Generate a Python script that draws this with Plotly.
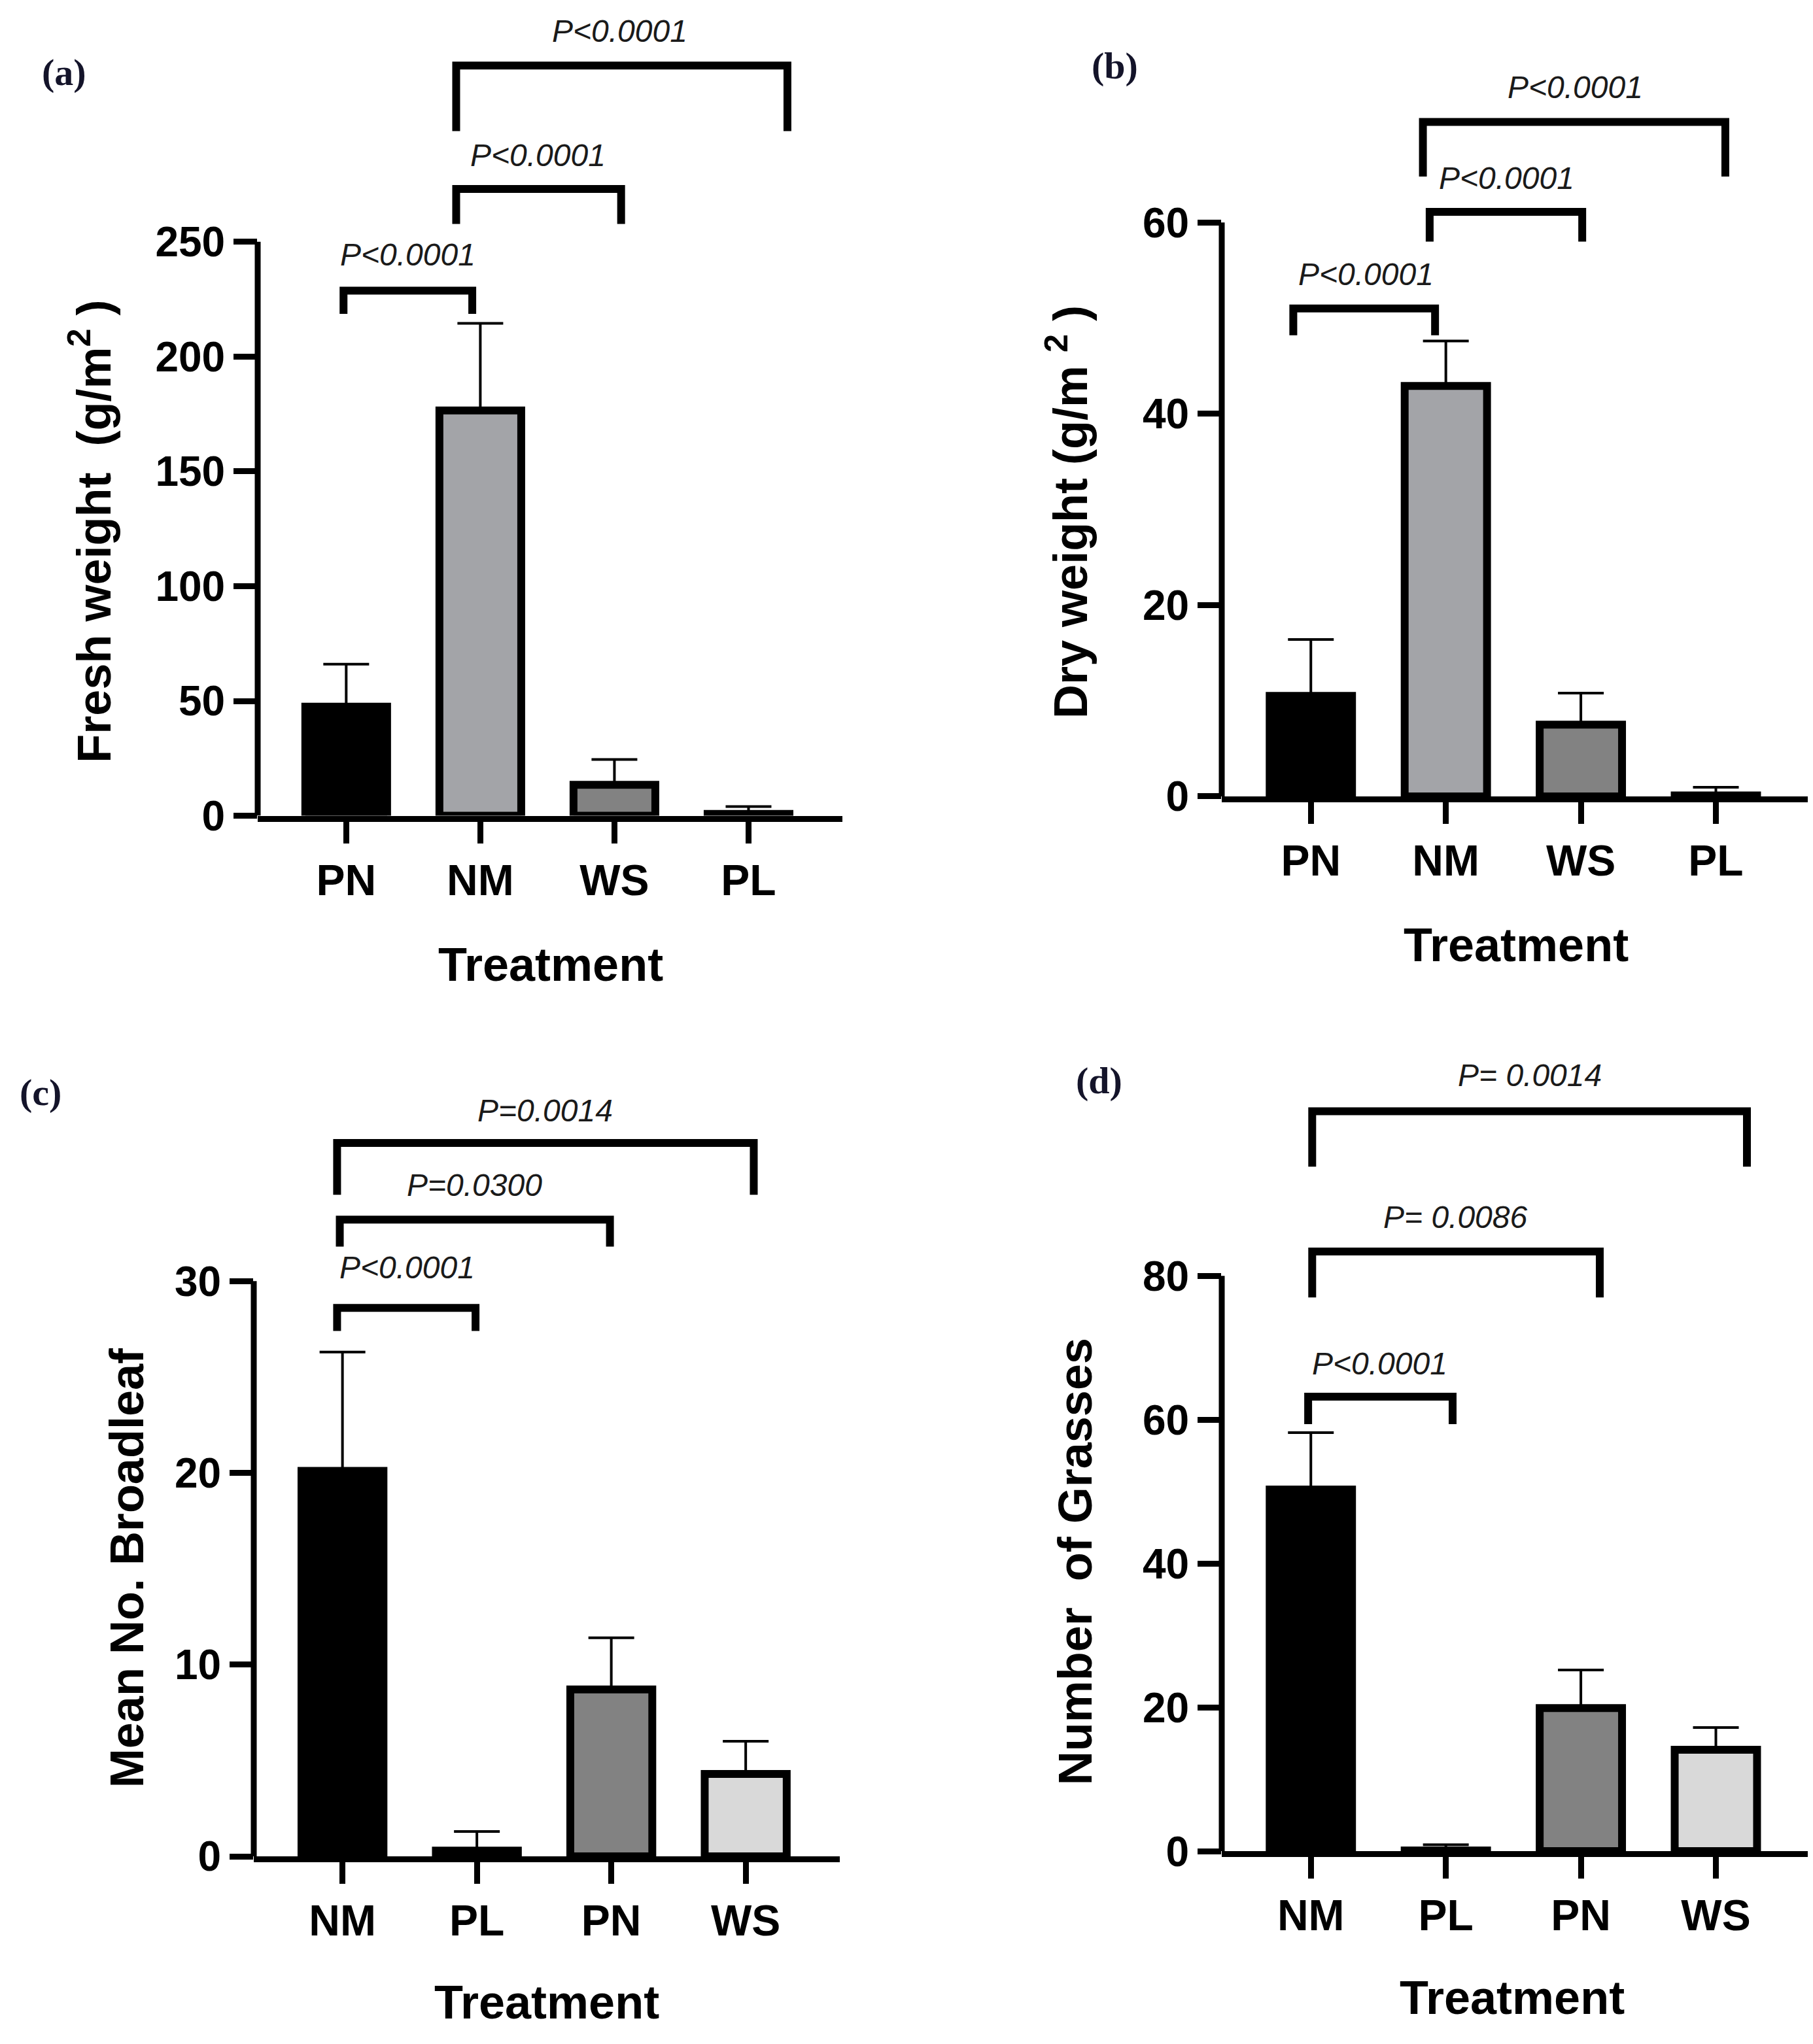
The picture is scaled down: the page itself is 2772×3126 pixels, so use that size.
import plotly.graph_objects as go

W, H = 2772, 3126
SANS = "Liberation Sans, Arial, sans-serif"
SERIF = "Liberation Serif, Times New Roman, serif"

# ---------------- data ----------------
cats_ab = ["PN", "NM", "WS", "PL"]
cats_cd = ["NM", "PL", "PN", "WS"]
bar_colors = ["#000000", "#a3a4a8", "#828282", "#d9d9d9"]

fresh_mean = [47.5, 176.5, 13.5, 0.8]
fresh_err = [18.5, 38.0, 11.0, 3.2]

dry_mean = [10.5, 42.9, 7.5, 0.1]
dry_err = [5.9, 4.7, 3.3, 0.85]

broadleaf_mean = [20.1, 0.3, 8.7, 4.3]
broadleaf_err = [6.2, 1.0, 2.7, 1.7]

grass_mean = [50.3, 0.1, 19.9, 14.1]
grass_err = [7.9, 0.8, 5.3, 3.1]

# significance brackets: (left, right, top, leg end) in category/value units
fresh_brackets = [(-0.02, 0.94, 228.7, 218.6), (0.82, 2.05, 273.0, 257.8), (0.82, 3.29, 326.8, 298.2)]
fresh_pvals = ["P<0.0001", "P<0.0001", "P<0.0001"]
fresh_pval_xy = [(0.46, 244.4), (1.43, 287.6), (2.04, 341.9)]

dry_brackets = [(-0.13, 0.92, 51.0, 48.2), (0.88, 2.01, 61.1, 58.0), (0.83, 3.07, 70.5, 64.8)]
dry_pvals = ["P<0.0001", "P<0.0001", "P<0.0001"]
dry_pval_xy = [(0.41, 54.6), (1.45, 64.6), (1.96, 74.1)]

broadleaf_brackets = [(-0.04, 0.99, 28.6, 27.4), (-0.02, 1.99, 33.2, 31.8), (-0.04, 3.06, 37.2, 34.5)]
broadleaf_pvals = ["P<0.0001", "P=0.0300", "P=0.0014"]
broadleaf_pval_xy = [(0.48, 30.7), (0.98, 35.0), (1.51, 38.9)]

grass_brackets = [(-0.02, 1.05, 63.2, 59.4), (0.01, 2.14, 83.4, 77.0), (0.01, 3.23, 102.9, 95.2)]
grass_pvals = ["P<0.0001", "P= 0.0086", "P= 0.0014"]
grass_pval_xy = [(0.51, 67.8), (1.07, 88.2), (1.62, 107.9)]

# ---------------- panel placement (pixels) ----------------
panels = [
    dict(label="(a)", label_xy=(90, 104), cats=cats_ab, mean=fresh_mean, err=fresh_err,
         brackets=fresh_brackets, pvals=fresh_pvals, pval_xy=fresh_pval_xy,
         left=386, right=1280, zero=1254, ppu=3.552, ymax=350, ytick_top=250, dtick=50,
         ytitle="Fresh weight\u00a0\u00a0(g/m<sup>2</sup> )", ytitle_xy=(130, 814),
         xtitle_xy=(834, 1484)),
    dict(label="(b)", label_xy=(1696, 94), cats=cats_ab, mean=dry_mean, err=dry_err,
         brackets=dry_brackets, pvals=dry_pvals, pval_xy=dry_pval_xy,
         left=1860, right=2760, zero=1224, ppu=14.8, ymax=77, ytick_top=60, dtick=20,
         ytitle="Dry weight (g/m <sup>2</sup> )", ytitle_xy=(1624, 784),
         xtitle_xy=(2310, 1454)),
    dict(label="(c)", label_xy=(54, 1682), cats=cats_cd, mean=broadleaf_mean, err=broadleaf_err,
         brackets=broadleaf_brackets, pvals=broadleaf_pvals, pval_xy=broadleaf_pval_xy,
         left=380, right=1276, zero=2864, ppu=29.67, ymax=40.5, ytick_top=30, dtick=10,
         ytitle="Mean No. Broadleaf", ytitle_xy=(186, 2418),
         xtitle_xy=(828, 3090)),
    dict(label="(d)", label_xy=(1672, 1664), cats=cats_cd, mean=grass_mean, err=grass_err,
         brackets=grass_brackets, pvals=grass_pvals, pval_xy=grass_pval_xy,
         left=1860, right=2760, zero=2856, ppu=11.125, ymax=110, ytick_top=80, dtick=20,
         ytitle="Number\u00a0\u00a0of Grasses", ytitle_xy=(1636, 2408),
         xtitle_xy=(2304, 3082)),
]

fig = go.Figure()
annotations = []
shapes = []

for i, p in enumerate(panels, start=1):
    xa = "x" if i == 1 else "x%d" % i
    ya = "y" if i == 1 else "y%d" % i
    xpos = list(range(len(p["cats"])))

    # bars with upper error bars (lower end sits hidden in the bar outline)
    fig.add_trace(go.Bar(
        x=xpos, y=p["mean"], xaxis=xa, yaxis=ya, width=0.61,
        marker=dict(color=bar_colors, line=dict(color="black", width=12)),
        error_y=dict(type="data", array=p["err"], arrayminus=[0] * len(p["err"]),
                     symmetric=False, color="black", thickness=4, width=35),
        showlegend=False, hoverinfo="skip"))

    # significance brackets
    for (x0, x1, ytop, yleg) in p["brackets"]:
        fig.add_trace(go.Scatter(
            x=[x0, x0, x1, x1], y=[yleg, ytop, ytop, yleg], xaxis=xa, yaxis=ya,
            mode="lines", line=dict(color="black", width=12),
            showlegend=False, hoverinfo="skip"))
    for txt, (tx, ty) in zip(p["pvals"], p["pval_xy"]):
        annotations.append(dict(
            x=tx, y=ty, xref=xa, yref=ya, text=txt, showarrow=False,
            xanchor="center", yanchor="middle",
            font=dict(family=SANS, size=48, color="#1a1a1a", style="italic")))

    # axes
    top_px = p["zero"] - p["ymax"] * p["ppu"]
    fig.layout[("xaxis" if i == 1 else "xaxis%d" % i)] = dict(
        domain=[p["left"] / W, p["right"] / W], anchor=ya,
        range=[-0.66, 3.7], tickmode="array", tickvals=xpos, ticktext=p["cats"],
        showline=True, linewidth=9, linecolor="black",
        ticks="outside", ticklen=33, tickwidth=9, tickcolor="black",
        tickfont=dict(family=SANS, size=66, color="black", weight="bold"),
        showgrid=False, zeroline=False, fixedrange=True)
    fig.layout[("yaxis" if i == 1 else "yaxis%d" % i)] = dict(
        domain=[1 - p["zero"] / H, 1 - top_px / H], anchor=xa,
        range=[0, p["ymax"]], tickmode="array",
        tickvals=list(range(0, p["ytick_top"] + 1, p["dtick"])),
        showline=False, ticks="outside", ticklen=36, tickwidth=9, tickcolor="black",
        tickfont=dict(family=SANS, size=64, color="black", weight="bold"),
        showgrid=False, zeroline=False, fixedrange=True)

    # y axis spine only up to the last tick
    shapes.append(dict(type="line", xref=xa + " domain", yref=ya,
                       x0=0, x1=0, y0=0, y1=p["ytick_top"],
                       line=dict(color="black", width=9)))

    # titles and panel label
    annotations.append(dict(
        x=p["ytitle_xy"][0] / W, y=1 - p["ytitle_xy"][1] / H, xref="paper", yref="paper",
        text=p["ytitle"], textangle=-90, showarrow=False, xanchor="center", yanchor="middle",
        font=dict(family=SANS, size=72, color="black", weight="bold")))
    annotations.append(dict(
        x=p["xtitle_xy"][0] / W, y=1 - p["xtitle_xy"][1] / H, xref="paper", yref="paper",
        text="Treatment", showarrow=False, xanchor="center", yanchor="middle",
        font=dict(family=SANS, size=72, color="black", weight="bold")))
    annotations.append(dict(
        x=p["label_xy"][0] / W, y=1 - p["label_xy"][1] / H, xref="paper", yref="paper",
        text=p["label"], showarrow=False, xanchor="center", yanchor="middle",
        font=dict(family=SERIF, size=58, color="#14142a", weight="bold")))

fig.update_layout(
    width=W, height=H,
    margin=dict(l=0, r=0, t=0, b=0),
    paper_bgcolor="white", plot_bgcolor="white",
    annotations=annotations, shapes=shapes,
    bargap=0.3,
)

fig.write_html("out.html")
